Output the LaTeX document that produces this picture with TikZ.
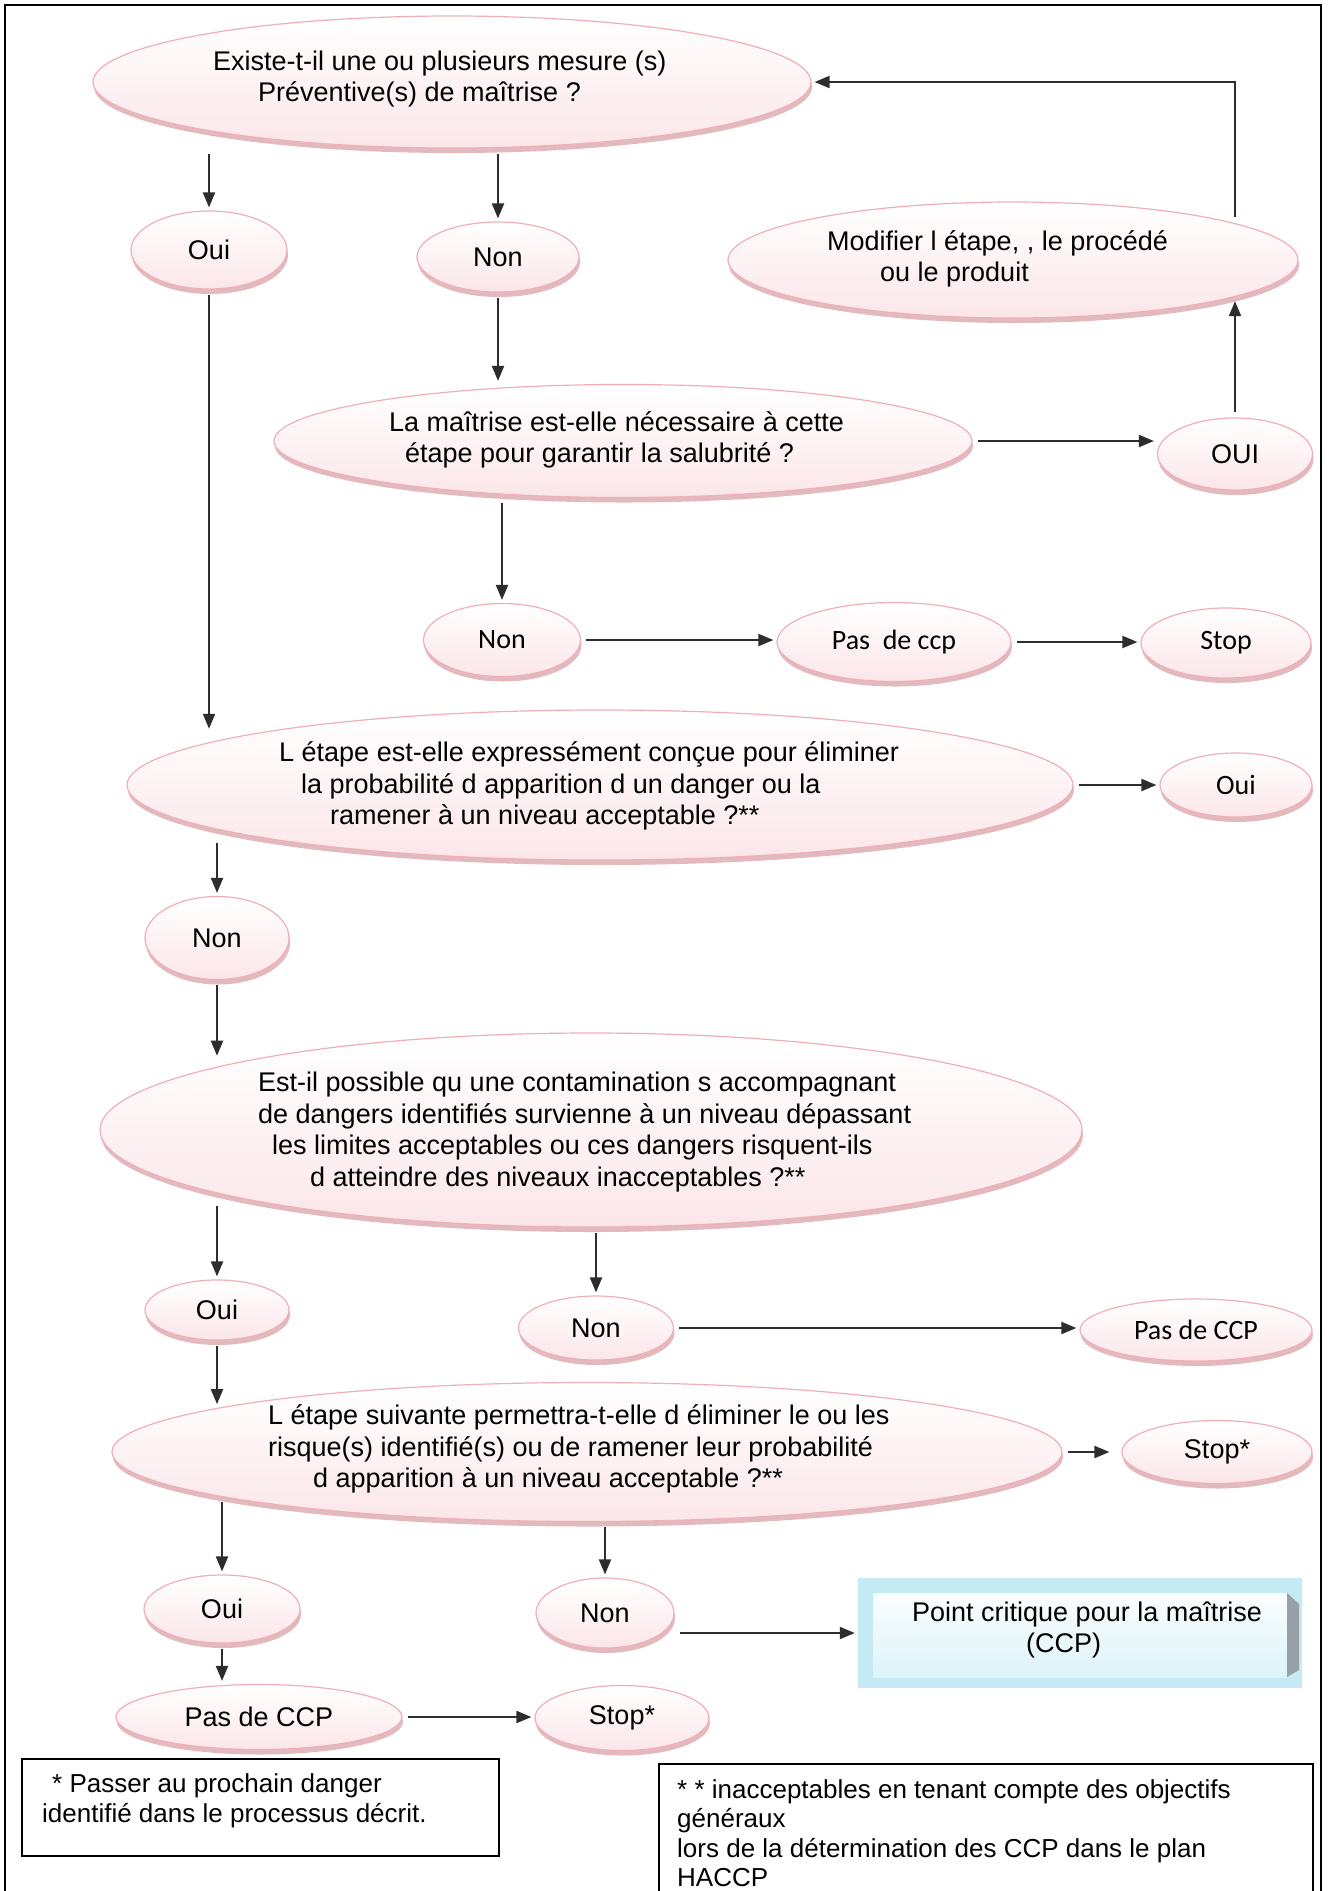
\documentclass[tikz,border=0pt]{standalone}
\usepackage{fontspec}
\setmainfont{Liberation Sans}
\newfontfamily\calib{Carlito}
\usetikzlibrary{shapes.geometric,arrows.meta,shadows,calc}
\definecolor{pinkline}{RGB}{240,175,184}
\definecolor{pinkfill}{RGB}{251,230,233}
\definecolor{rimcol}{RGB}{226,186,190}
\definecolor{arrcol}{RGB}{45,45,45}
\definecolor{cyanout}{RGB}{196,234,243}
\definecolor{cyanin}{RGB}{218,242,248}
\definecolor{bevgray}{RGB}{150,160,166}
\begin{document}
\begin{tikzpicture}[x=1pt,y=-1pt,
 bub/.style={ellipse, draw=pinkline, line width=1.2pt, top color=white, bottom color=pinkfill,
   inner sep=0pt, drop shadow={shadow xshift=1pt, shadow yshift=-5pt, fill=rimcol, opacity=1},
   font=\fontsize{27}{31}\selectfont},
 cal/.style={font=\calib\fontsize{28}{32}\selectfont},
 txt/.style={inner sep=0pt, align=left, anchor=west, font=\fontsize{27}{31.5}\selectfont},
 arr/.style={draw=arrcol, line width=2pt, -{Triangle[length=15pt,width=12pt]}, shorten <=5pt, shorten >=3pt},
 note/.style={draw=black, line width=1.8pt, rectangle, inner sep=0pt, anchor=north west},
 ccpbox/.style={rectangle, minimum width=444pt, minimum height=110pt, inner sep=0pt, fill=cyanout,
   path picture={
     \fill[top color=white, bottom color=cyanin]
       ([shift={(15pt,-15pt)}]path picture bounding box.north west) rectangle
       ([shift={(-15pt,11pt)}]path picture bounding box.south east);
     \fill[bevgray]
       ([shift={(-15pt,-15pt)}]path picture bounding box.north east) --
       ([shift={(-3pt,-26pt)}]path picture bounding box.north east) --
       ([shift={(-3pt,18pt)}]path picture bounding box.south east) --
       ([shift={(-15pt,11pt)}]path picture bounding box.south east) -- cycle;
   }},
]
\useasboundingbox (0,0) rectangle (1330,1891);
\clip (0,0) rectangle (1330,1891);
\fill[white] (0,0) rectangle (1330,1891);
\draw[line width=2pt] (5,1900) -- (5,5) -- (1321,5) -- (1321,1900);

% question ellipses
\node[bub, minimum width=718pt, minimum height=132pt] (q1) at (452,82) {};
\node[txt] (q1t) at (213,79) {Existe-t-il une ou plusieurs mesure (s)\\\hspace*{45pt}Préventive(s) de maîtrise ?};

\node[bub, minimum width=570pt, minimum height=116pt] (modif) at (1013,260) {};
\node[txt] (modift) at (827,259) {Modifier l étape, , le procédé\\\hspace*{53pt}ou le produit};

\node[bub, minimum width=698pt, minimum height=113pt] (q2) at (623,441) {};
\node[txt] (q2t) at (389,440) {La maîtrise est-elle nécessaire à cette\\\hspace*{16pt}étape pour garantir la salubrité ?};

\node[bub, minimum width=946pt, minimum height=150pt] (q3) at (600,785) {};
\node[txt] (q3t) at (279,786) {L étape est-elle expressément conçue pour éliminer\\\hspace*{22pt}la probabilité d apparition d un danger ou la\\\hspace*{51pt}ramener à un niveau acceptable ?**};

\node[bub, minimum width=982pt, minimum height=194pt] (q4) at (591,1130) {};
\node[txt] (q4t) at (258,1132) {Est-il possible qu une contamination s accompagnant\\de dangers identifiés survienne à un niveau dépassant\\\hspace*{14pt}les limites acceptables ou ces dangers risquent-ils\\\hspace*{52pt}d atteindre des niveaux inacceptables ?**};

\node[bub, minimum width=950pt, minimum height=139pt] (q5) at (587,1452) {};
\node[txt] (q5t) at (268,1449) {L étape suivante permettra-t-elle d éliminer le ou les\\risque(s) identifié(s) ou de ramener leur probabilité\\\hspace*{45pt}d apparition à un niveau acceptable ?**};

% answer ellipses
\node[bub, minimum width=156pt, minimum height=78pt] (oui1) at (209,250) {Oui};
\node[bub, minimum width=162pt, minimum height=70pt] (non1) at (498,257) {Non};
\node[bub, minimum width=155pt, minimum height=72pt] (ouiM) at (1235,454) {OUI};
\node[bub, cal, minimum width=157pt, minimum height=73pt] (non2) at (502,640) {Non};
\node[bub, cal, minimum width=234pt, minimum height=79pt] (pas1) at (894,642) {Pas\ \ de ccp};
\node[bub, cal, minimum width=170pt, minimum height=70pt] (stop1) at (1226,643) {Stop};
\node[bub, cal, minimum width=152pt, minimum height=64pt] (oui2) at (1236,785) {Oui};
\node[bub, minimum width=144pt, minimum height=83pt] (non3) at (217,938) {Non};
\node[bub, minimum width=144pt, minimum height=60pt] (oui3) at (217,1310) {Oui};
\node[bub, minimum width=155pt, minimum height=64pt] (non4) at (596,1328) {Non};
\node[bub, cal, minimum width=232pt, minimum height=62pt] (pas2) at (1196,1330) {Pas de CCP};
\node[bub, minimum width=190pt, minimum height=63pt] (stop2) at (1217,1452) {Stop*};
\node[bub, minimum width=156pt, minimum height=68pt] (oui4) at (222,1609) {Oui};
\node[bub, minimum width=138pt, minimum height=70pt] (non5) at (605,1613) {Non};
\node[bub, minimum width=286pt, minimum height=65pt] (pas3) at (259,1717) {Pas de CCP};
\node[bub, minimum width=174pt, minimum height=65pt] (stop3) at (622,1718) {Stop*};

% CCP box
\node[ccpbox] (ccp) at (1080,1633) {};
\node[txt] (ccpt) at (912,1630) {Point critique pour la maîtrise\\\hspace*{114pt}(CCP)};

% footnotes
\node[note, minimum width=477pt, minimum height=97pt] (fn1) at (21,1758) {};
\node[txt, font=\fontsize{26}{30}\selectfont] (fn1t) at (42,1801) {\hspace*{10pt}* Passer au prochain danger\\identifié dans le processus décrit.};
\node[note, minimum width=654pt, minimum height=220pt] (fn2) at (658,1763) {};
\node[txt, font=\fontsize{26}{29.5}\selectfont] (fn2t) at (677,1833) {* * inacceptables en tenant compte des objectifs\\généraux\\lors de la détermination des CCP dans le plan\\HACCP};

% connectors
\draw[arr] (q1.south -| oui1.north) -- (oui1.north);
\draw[arr] (q1.south -| non1.north) -- (non1.north);
\draw[arr] (non1.south) -- (non1.south |- q2.north);
\draw[arr] (q2.east) -- (q2.east -| ouiM.west);
\draw[arr] (ouiM.north) -- (ouiM.north |- modif.-10);
\draw[arr] (ouiM.north |- modif.10) |- (q1.east);
\draw[arr] (q2.south -| non2.north) -- (non2.north);
\draw[arr] (non2.east) -- (non2.east -| pas1.west);
\draw[arr] (pas1.east) -- (pas1.east -| stop1.west);
\draw[arr] (oui1.south) -- (oui1.south |- q3.171);
\draw[arr] (q3.east) -- (q3.east -| oui2.west);
\draw[arr] (non3.north |- q3.-171) -- (non3.north);
\draw[arr] (non3.south) -- (non3.south |- q4.168);
\draw[arr] (oui3.north |- q4.-168) -- (oui3.north);
\draw[arr] (q4.south -| non4.north) -- (non4.north);
\draw[arr] (non4.east) -- (non4.east -| pas2.west);
\draw[arr] (oui3.south) -- (oui3.south |- q5.173);
\draw[arr, shorten >=12pt] (q5.east) -- (q5.east -| stop2.west);
\draw[arr] (oui4.north |- q5.-173) -- (oui4.north);
\draw[arr] (q5.south -| non5.north) -- (non5.north);
\draw[arr] (non5.east |- ccp.west) -- (ccp.west);
\draw[arr] (oui4.south) -- (oui4.south |- pas3.north);
\draw[arr] (pas3.east) -- (pas3.east -| stop3.west);
\end{tikzpicture}
\end{document}
